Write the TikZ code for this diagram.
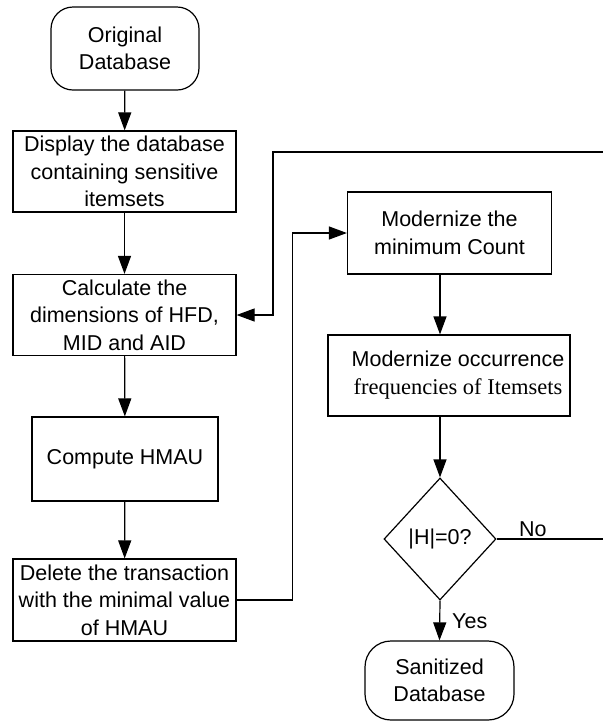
\documentclass[tikz,border=0pt]{standalone}
\usepackage{fontspec}
\setmainfont{Liberation Sans}
\newfontfamily\timesf{Liberation Serif}
\usetikzlibrary{shapes.geometric,arrows.meta}
\begin{document}
\begin{tikzpicture}[x=1pt,y=-1pt,
  every node/.style={font=\fontsize{21.5}{27.5}\selectfont},
  box/.style={draw,line width=1.2pt,inner sep=0pt,align=center},
  term/.style={box,rounded corners=22pt},
  dec/.style={draw,line width=1.2pt,diamond,inner sep=0pt,minimum width=112pt,minimum height=122pt},
  conn/.style={line width=1.2pt},
  arr/.style={conn,-{Triangle[length=18pt,width=13pt]}}]
\useasboundingbox (0,0) rectangle (603,721);
\node[term,minimum width=148pt,minimum height=83pt] (orig) at (125,48.5) {Original\\Database};
\node[box,minimum width=223pt,minimum height=81pt] (disp) at (124.5,171.5) {Display the database\\containing sensitive\\itemsets};
\node[box,minimum width=223pt,minimum height=81pt] (calc) at (124.5,315) {Calculate the\\dimensions of HFD,\\MID and AID};
\node[box,minimum width=186pt,minimum height=84pt] (comp) at (125,459) {Compute HMAU};
\node[box,minimum width=223pt,minimum height=82pt] (del) at (124.5,600) {Delete the transaction\\with the minimal value\\of HMAU};
\node[box,minimum width=204pt,minimum height=82pt] (mod1) at (449.5,233) {Modernize the\\minimum Count};
\node[box,minimum width=242pt,minimum height=81pt] (mod2) at (449,375.5) {};
\node[align=center,inner sep=0pt] (mod2t) at (458,375) {Modernize occurrence\\{\timesf\fontsize{22.5}{27.5}\selectfont frequencies of Itemsets}};
\node[dec] (dia) at (440,539) {|H|=0?};
\node[term,rounded corners=26pt,minimum width=149pt,minimum height=79pt] (san) at (439.5,680.5) {Sanitized\\Database};
\node[anchor=base west,inner sep=0pt] (yes) at (452,628) {Yes};
\node[anchor=base west,inner sep=0pt] (no) at (519,536) {No};
\coordinate (fbin) at (603,152);
\coordinate (noout) at (603,539);
\draw[arr] (orig) -- (disp);
\draw[arr] (disp) -- (calc);
\draw[arr] (calc) -- (comp);
\draw[arr] (comp) -- (del);
\draw[arr] (del.east) -- ++(56,0) |- (mod1.west);
\draw[arr] (dia.north |- mod1.south) -- (dia.north |- mod2.north);
\draw[arr] (dia.north |- mod2.south) -- (dia.north);
\draw[arr] (dia.south) -- (san.north);
\draw[conn] (dia.east) -- (noout);
\draw[arr] (fbin) -- (273,152) |- (calc.east);
\end{tikzpicture}
\end{document}
